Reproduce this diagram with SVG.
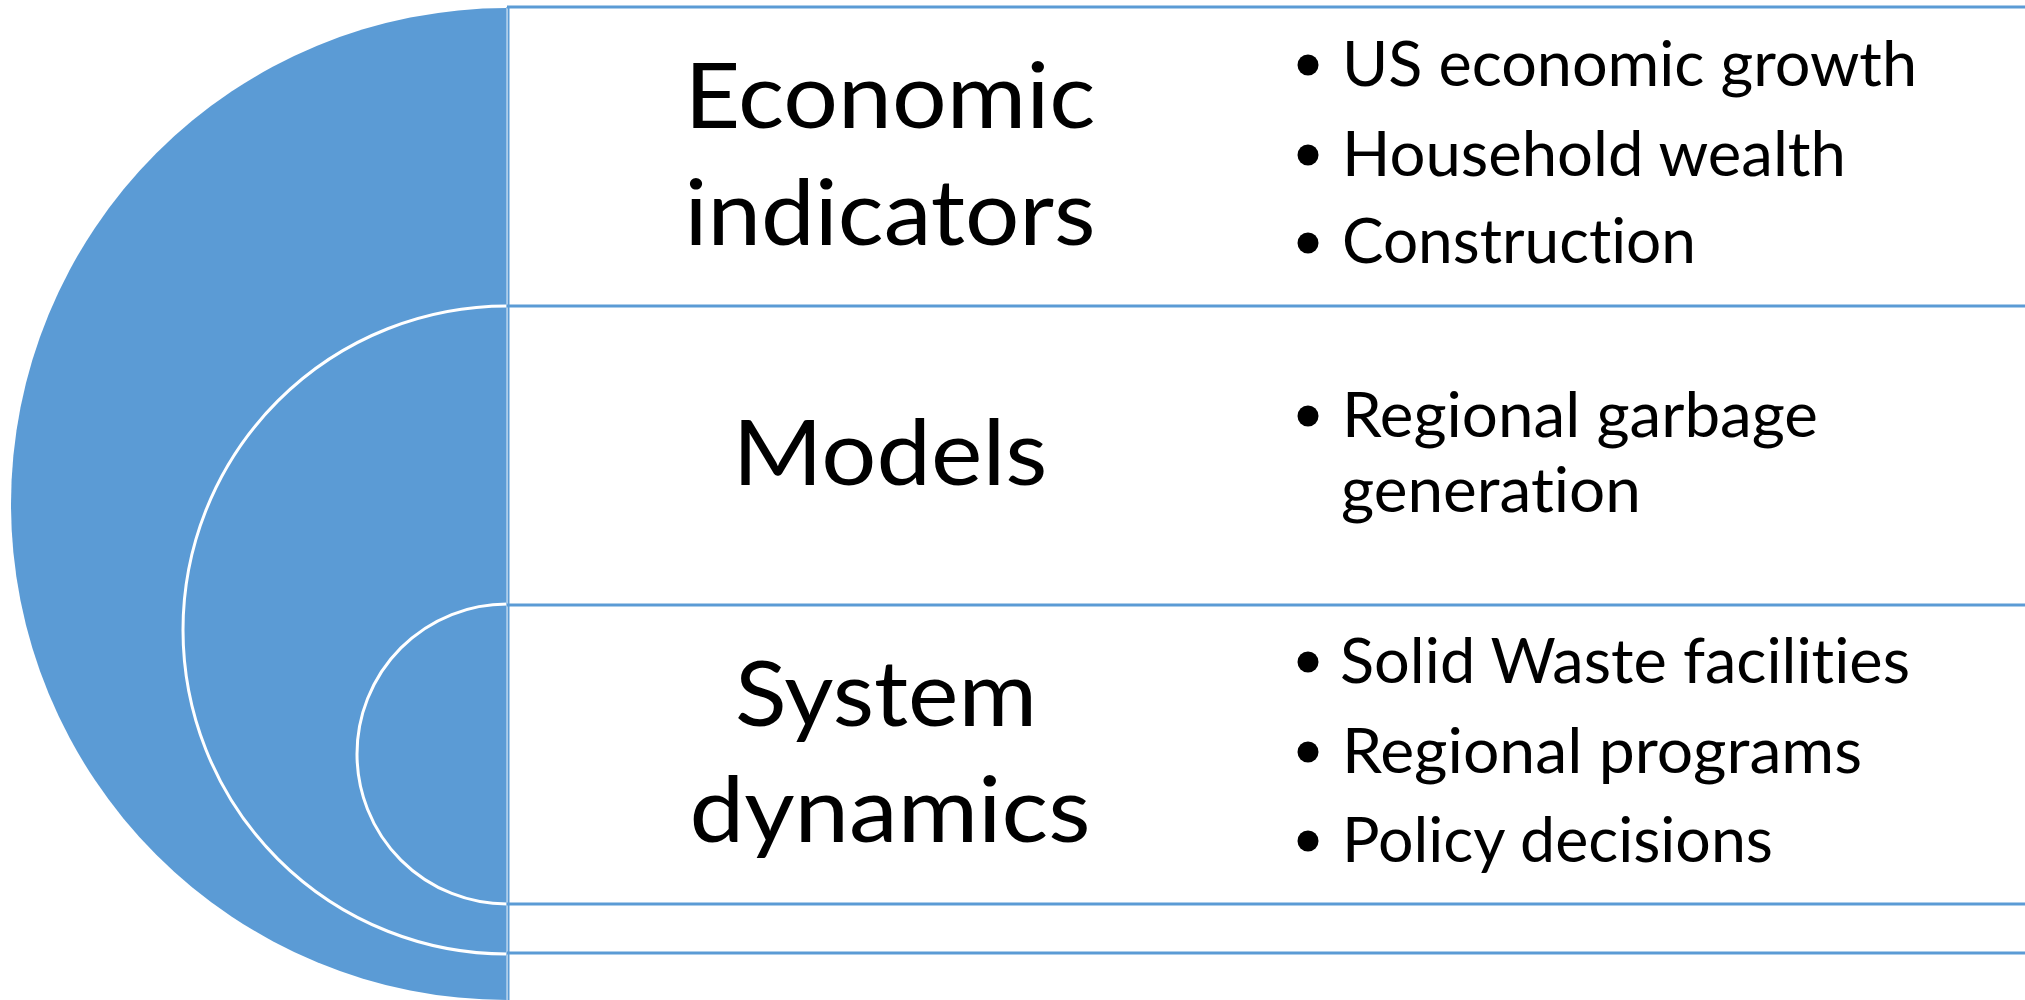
<svg xmlns="http://www.w3.org/2000/svg" width="2025" height="1000" viewBox="0 0 2025 1000">
  <style>
    .disc { fill: #5B9BD5; stroke: #FFFFFF; stroke-width: 3; }
    .rule { stroke: #5B9BD5; stroke-width: 3; fill: none; }
    .title { font-family: Lato, "Open Sans", "Liberation Sans", sans-serif; font-size: 92px; fill: #000000; text-anchor: middle; font-variant-ligatures: none; }
    .item { font-family: Lato, "Open Sans", "Liberation Sans", sans-serif; font-size: 61px; fill: #000000; font-variant-ligatures: none; }
    .dot { fill: #000000; }
  </style>
  <rect x="0" y="0" width="2025" height="1000" fill="#FFFFFF"/>

  <!-- nested target discs -->
  <g id="target">
    <circle id="ring-outer" cx="507" cy="504" r="496" fill="#5B9BD5"/>
    <circle id="ring-middle" class="disc" cx="507" cy="630" r="324"/>
    <circle id="ring-inner" class="disc" cx="507" cy="754" r="150"/>
    <!-- white mask on right half -->
    <rect x="507" y="0" width="1518" height="1000" fill="#FFFFFF"/>
  </g>

  <!-- row rules -->
  <g id="connectors">
    <line class="rule" x1="507" y1="7" x2="2025" y2="7"/>
    <line class="rule" x1="507" y1="306" x2="2025" y2="306"/>
    <line class="rule" x1="507" y1="605" x2="2025" y2="605"/>
    <line class="rule" x1="507" y1="904" x2="2025" y2="904"/>
    <line class="rule" x1="507" y1="953" x2="2025" y2="953"/>
    <line x1="506.5" y1="7" x2="506.5" y2="1000" stroke="#9CC3E6" stroke-width="1"/>
    <line x1="508.5" y1="6" x2="508.5" y2="1000" stroke="#5B9BD5" stroke-width="2"/>
  </g>

  <!-- row 1 -->
  <g id="economic-indicators">
    <text class="title" x="890" y="128" textLength="411" lengthAdjust="spacingAndGlyphs">Economic</text>
    <text class="title" x="890" y="245" textLength="411" lengthAdjust="spacingAndGlyphs">indicators</text>
    <circle class="dot" cx="1308" cy="65" r="10.5"/>
    <text class="item" x="1342" y="86" textLength="575" lengthAdjust="spacingAndGlyphs">US economic growth</text>
    <circle class="dot" cx="1308" cy="155" r="10.5"/>
    <text class="item" x="1342" y="176" textLength="504" lengthAdjust="spacingAndGlyphs">Household wealth</text>
    <circle class="dot" cx="1308" cy="243" r="10.5"/>
    <text class="item" x="1342" y="263" textLength="354" lengthAdjust="spacingAndGlyphs">Construction</text>
  </g>

  <!-- row 2 -->
  <g id="models">
    <text class="title" x="890" y="485" textLength="315" lengthAdjust="spacingAndGlyphs">Models</text>
    <circle class="dot" cx="1308" cy="416" r="10.5"/>
    <text class="item" x="1342" y="437" textLength="476" lengthAdjust="spacingAndGlyphs">Regional garbage</text>
    <text class="item" x="1341" y="512" textLength="300" lengthAdjust="spacingAndGlyphs">generation</text>
  </g>

  <!-- row 3 -->
  <g id="system-dynamics">
    <text class="title" x="886" y="726" textLength="302" lengthAdjust="spacingAndGlyphs">System</text>
    <text class="title" x="890" y="842" textLength="401" lengthAdjust="spacingAndGlyphs">dynamics</text>
    <circle class="dot" cx="1308" cy="662" r="10.5"/>
    <text class="item" x="1340" y="683" textLength="570" lengthAdjust="spacingAndGlyphs">Solid Waste facilities</text>
    <circle class="dot" cx="1308" cy="752" r="10.5"/>
    <text class="item" x="1342" y="773" textLength="520" lengthAdjust="spacingAndGlyphs">Regional programs</text>
    <circle class="dot" cx="1308" cy="841" r="10.5"/>
    <text class="item" x="1342" y="862" textLength="431" lengthAdjust="spacingAndGlyphs">Policy decisions</text>
  </g>
</svg>
